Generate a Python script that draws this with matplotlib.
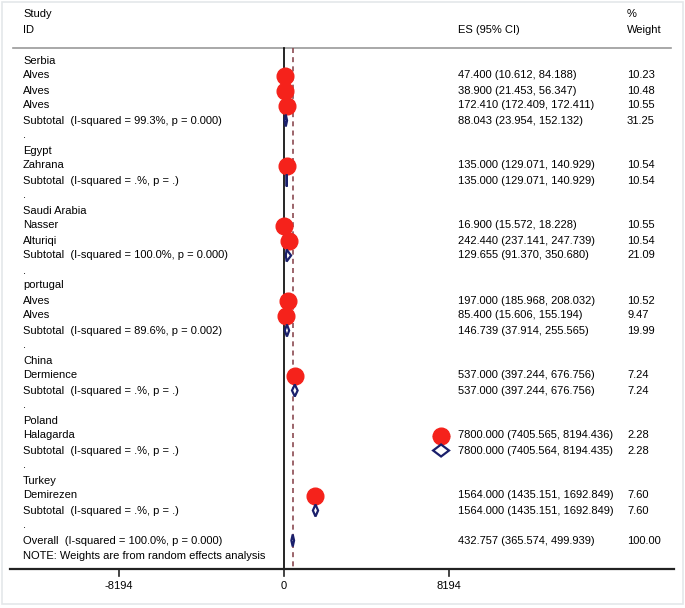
import numpy as np
import matplotlib
matplotlib.use("Agg")
import matplotlib.pyplot as plt
from matplotlib.patches import Polygon, Rectangle

plt.rcParams['font.family'] = ['Liberation Sans', 'DejaVu Sans']

# rows of the forest plot, top to bottom
# kind: 'g' group header, 's' study, 't' subtotal, 'b' blank, 'o' overall
labels = ["Serbia", "Alves", "Alves", "Alves",
          "Subtotal  (I-squared = 99.3%, p = 0.000)", ".",
          "Egypt", "Zahrana", "Subtotal  (I-squared = .%, p = .)", ".",
          "Saudi Arabia", "Nasser", "Alturiqi",
          "Subtotal  (I-squared = 100.0%, p = 0.000)", ".",
          "portugal", "Alves", "Alves",
          "Subtotal  (I-squared = 89.6%, p = 0.002)", ".",
          "China", "Dermience", "Subtotal  (I-squared = .%, p = .)", ".",
          "Poland", "Halagarda", "Subtotal  (I-squared = .%, p = .)", ".",
          "Turkey", "Demirezen", "Subtotal  (I-squared = .%, p = .)", ".",
          "Overall  (I-squared = 100.0%, p = 0.000)"]
kinds = ["g", "s", "s", "s", "t", "b",
         "g", "s", "t", "b",
         "g", "s", "s", "t", "b",
         "g", "s", "s", "t", "b",
         "g", "s", "t", "b",
         "g", "s", "t", "b",
         "g", "s", "t", "b",
         "o"]
es = [None, 47.400, 38.900, 172.410, 88.043, None,
      None, 135.000, 135.000, None,
      None, 16.900, 242.440, 129.655, None,
      None, 197.000, 85.400, 146.739, None,
      None, 537.000, 537.000, None,
      None, 7800.000, 7800.000, None,
      None, 1564.000, 1564.000, None,
      432.757]
lo = [None, 10.612, 21.453, 172.409, 23.954, None,
      None, 129.071, 129.071, None,
      None, 15.572, 237.141, 91.370, None,
      None, 185.968, 15.606, 37.914, None,
      None, 397.244, 397.244, None,
      None, 7405.565, 7405.564, None,
      None, 1435.151, 1435.151, None,
      365.574]
hi = [None, 84.188, 56.347, 172.411, 152.132, None,
      None, 140.929, 140.929, None,
      None, 18.228, 247.739, 350.680, None,
      None, 208.032, 155.194, 255.565, None,
      None, 676.756, 676.756, None,
      None, 8194.436, 8194.435, None,
      None, 1692.849, 1692.849, None,
      499.939]
weights = [None, "10.23", "10.48", "10.55", "31.25", None,
           None, "10.54", "10.54", None,
           None, "10.55", "10.54", "21.09", None,
           None, "10.52", "9.47", "19.99", None,
           None, "7.24", "7.24", None,
           None, "2.28", "2.28", None,
           None, "7.60", "7.60", None,
           "100.00"]
overall_es = 432.757
xticks = [-8194, 0, 8194]

W, H = 685, 608
fig = plt.figure(figsize=(W / 100, H / 100), dpi=100)
ax = fig.add_axes([0, 0, 1, 1])
ax.axis("off")

# pixel-based layout helpers
px = 8194 / 165.0          # data units per pixel horizontally
x0 = 284                   # pixel of zero
ax.set_xlim(-x0 * px, (W - x0) * px)
row0, rowh = 60.5, 15.0    # pixel y of first row, row height
ax.set_ylim((H - row0) / rowh, -row0 / rowh)

def yr(pix):
    return (pix - row0) / rowh

def xd(pix):
    return (pix - x0) * px

fs = 8
tx_id, tx_es, tx_w = xd(23), xd(458), xd(627)

# header
ax.text(tx_id, yr(14), "Study", fontsize=fs, va="center")
ax.text(tx_id, yr(30), "ID", fontsize=fs, va="center")
ax.text(tx_es, yr(30), "ES (95% CI)", fontsize=fs, va="center")
ax.text(tx_w, yr(14), "%", fontsize=fs, va="center")
ax.text(tx_w, yr(30), "Weight", fontsize=fs, va="center")
ax.plot([xd(13), xd(671)], [yr(48), yr(48)], color="#9a9a9a", lw=1.2)

# reference lines
ax.plot([0, 0], [yr(48), yr(569)], color="black", lw=1.2, zorder=2)
ax.plot([overall_es, overall_es], [yr(48), yr(569)], color="#8b4a52",
        lw=1.2, ls=(0, (3, 2.5)), zorder=2)

for i, (lab, k) in enumerate(zip(labels, kinds)):
    ax.text(tx_id, i, lab, fontsize=fs, va="center")
    if es[i] is None:
        continue
    ax.text(tx_es, i, "%.3f (%.3f, %.3f)" % (es[i], lo[i], hi[i]),
            fontsize=fs, va="center")
    ax.text(tx_w, i, weights[i], fontsize=fs, va="center")
    if k == "s":
        ax.plot([lo[i], hi[i]], [i, i], color="black", lw=1, zorder=3)
        ax.plot(es[i], i, "o", ms=12, color="#f5221b", mec="#f5221b",
                zorder=4)
    else:
        hh = 0.4
        dia = Polygon([[lo[i], i], [es[i], i - hh], [hi[i], i], [es[i], i + hh]],
                      closed=True, facecolor="white", edgecolor="#1a1f6b",
                      lw=1.6, zorder=4)
        ax.add_patch(dia)

ax.text(tx_id, 33.05, "NOTE: Weights are from random effects analysis",
        fontsize=fs, va="center")

# x axis
ax.plot([xd(10), xd(674)], [yr(569), yr(569)], color="#222222", lw=1.6)
for t in xticks:
    ax.plot([t, t], [yr(569), yr(576)], color="#222222", lw=1.2)
    ax.text(t, yr(586), str(t), fontsize=fs, ha="center", va="center")

# light outer border
fig.patches.append(Rectangle((1.5 / W, 4.5 / H), (W - 3.5) / W, (H - 6) / H,
                             transform=fig.transFigure, fill=False,
                             edgecolor="#e4e8ea", lw=1.2))

fig.savefig("out.png", dpi=100)
